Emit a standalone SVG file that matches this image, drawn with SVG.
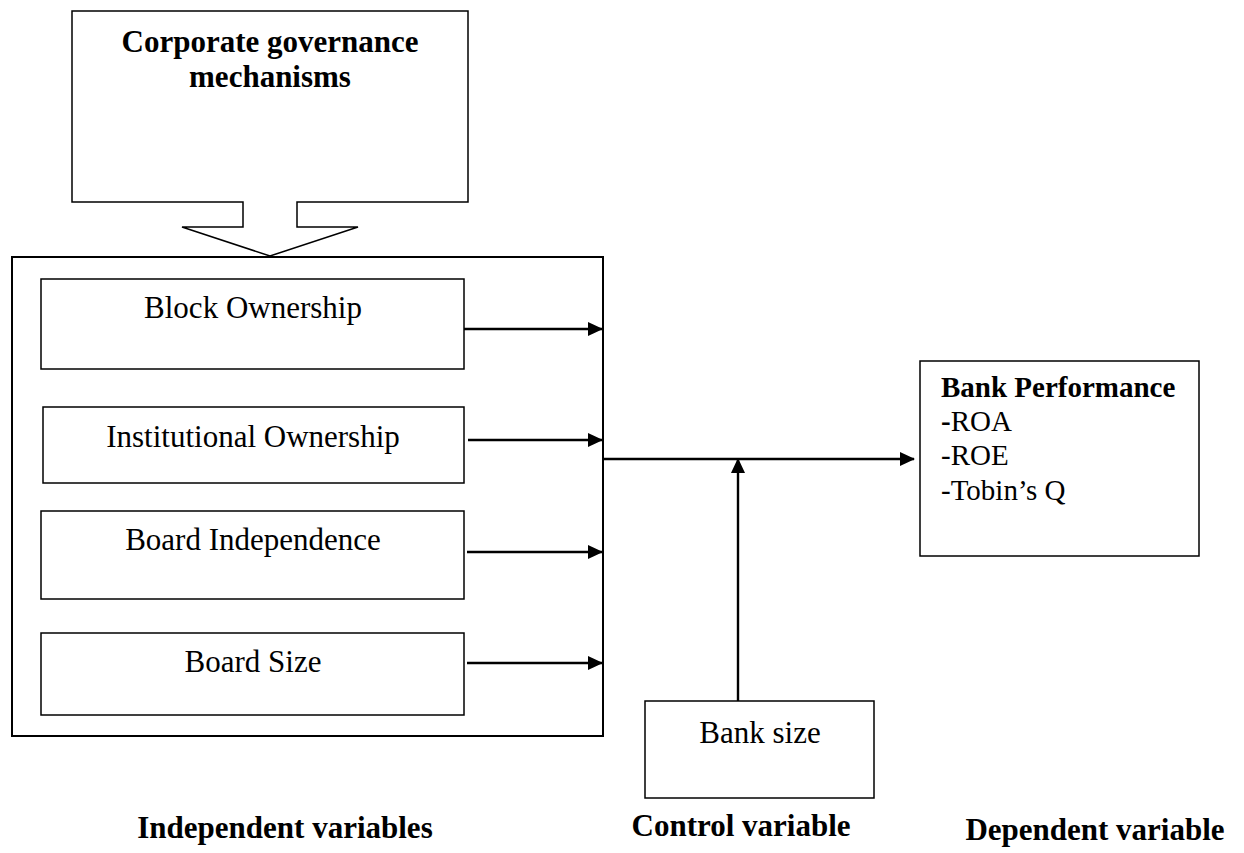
<svg xmlns="http://www.w3.org/2000/svg" width="1244" height="853" viewBox="0 0 1244 853">
<defs>
<marker id="ah" markerWidth="15" markerHeight="14" refX="14" refY="7" orient="auto" markerUnits="userSpaceOnUse">
<path d="M0,0 L15,7 L0,14 Z" fill="#000"/>
</marker>
<style>
.box{fill:#fff;stroke:#000;stroke-width:1.5}
.outer{fill:none;stroke:#000;stroke-width:2}
.con{fill:none;stroke:#000;stroke-width:2.4}
.t{font-family:"Liberation Serif","Times New Roman",serif;font-size:31px;fill:#000}
.b{font-family:"Liberation Serif","Times New Roman",serif;font-size:31px;font-weight:bold;fill:#000}
.p{font-family:"Liberation Serif","Times New Roman",serif;font-size:29px;fill:#000}
</style>
</defs>
<rect width="1244" height="853" fill="#fff"/>
<g id="callout">
<path class="box" d="M72,11 H468 V202 H297 V227 H358 L270,256 L182,227 H243 V202 H72 Z"/>
<text class="b" x="270" y="52" text-anchor="middle">Corporate governance</text>
<text class="b" x="270" y="87" text-anchor="middle">mechanisms</text>
</g>
<g id="independent-group">
<rect class="outer" x="12" y="257" width="591" height="479"/>
</g>
<g id="block-ownership">
<rect class="box" x="41" y="279" width="423" height="90"/>
<text class="t" x="253" y="318" text-anchor="middle">Block Ownership</text>
</g>
<g id="institutional-ownership">
<rect class="box" x="43" y="407" width="421" height="76"/>
<text class="t" x="253" y="447" text-anchor="middle">Institutional Ownership</text>
</g>
<g id="board-independence">
<rect class="box" x="41" y="511" width="423" height="88"/>
<text class="t" x="253" y="550" text-anchor="middle">Board Independence</text>
</g>
<g id="board-size">
<rect class="box" x="41" y="633" width="423" height="82"/>
<text class="t" x="253" y="672" text-anchor="middle">Board Size</text>
</g>
<g id="bank-size">
<rect class="box" x="645" y="701" width="229" height="97"/>
<text class="t" x="760" y="743" text-anchor="middle">Bank size</text>
</g>
<g id="bank-performance">
<rect class="box" x="920" y="361" width="279" height="195"/>
<text class="p" x="941" y="397" font-weight="bold">Bank Performance</text>
<text class="p" x="941" y="431"><tspan font-weight="bold">-</tspan>ROA</text>
<text class="p" x="941" y="465">-ROE</text>
<text class="p" x="941" y="500">-Tobin’s Q</text>
</g>
<g id="connectors">
<line class="con" x1="464" y1="329" x2="602" y2="329" marker-end="url(#ah)"/>
<line class="con" x1="468" y1="440" x2="602" y2="440" marker-end="url(#ah)"/>
<line class="con" x1="467" y1="552" x2="602" y2="552" marker-end="url(#ah)"/>
<line class="con" x1="467" y1="663" x2="602" y2="663" marker-end="url(#ah)"/>
<line class="con" x1="603" y1="459" x2="914" y2="459" marker-end="url(#ah)"/>
<line class="con" x1="738" y1="701" x2="738" y2="459" marker-end="url(#ah)"/>
</g>
<g id="labels">
<text class="b" x="285" y="838" text-anchor="middle">Independent variables</text>
<text class="b" x="741" y="836" text-anchor="middle">Control variable</text>
<text class="b" x="1095" y="840" text-anchor="middle">Dependent variable</text>
</g>
</svg>
